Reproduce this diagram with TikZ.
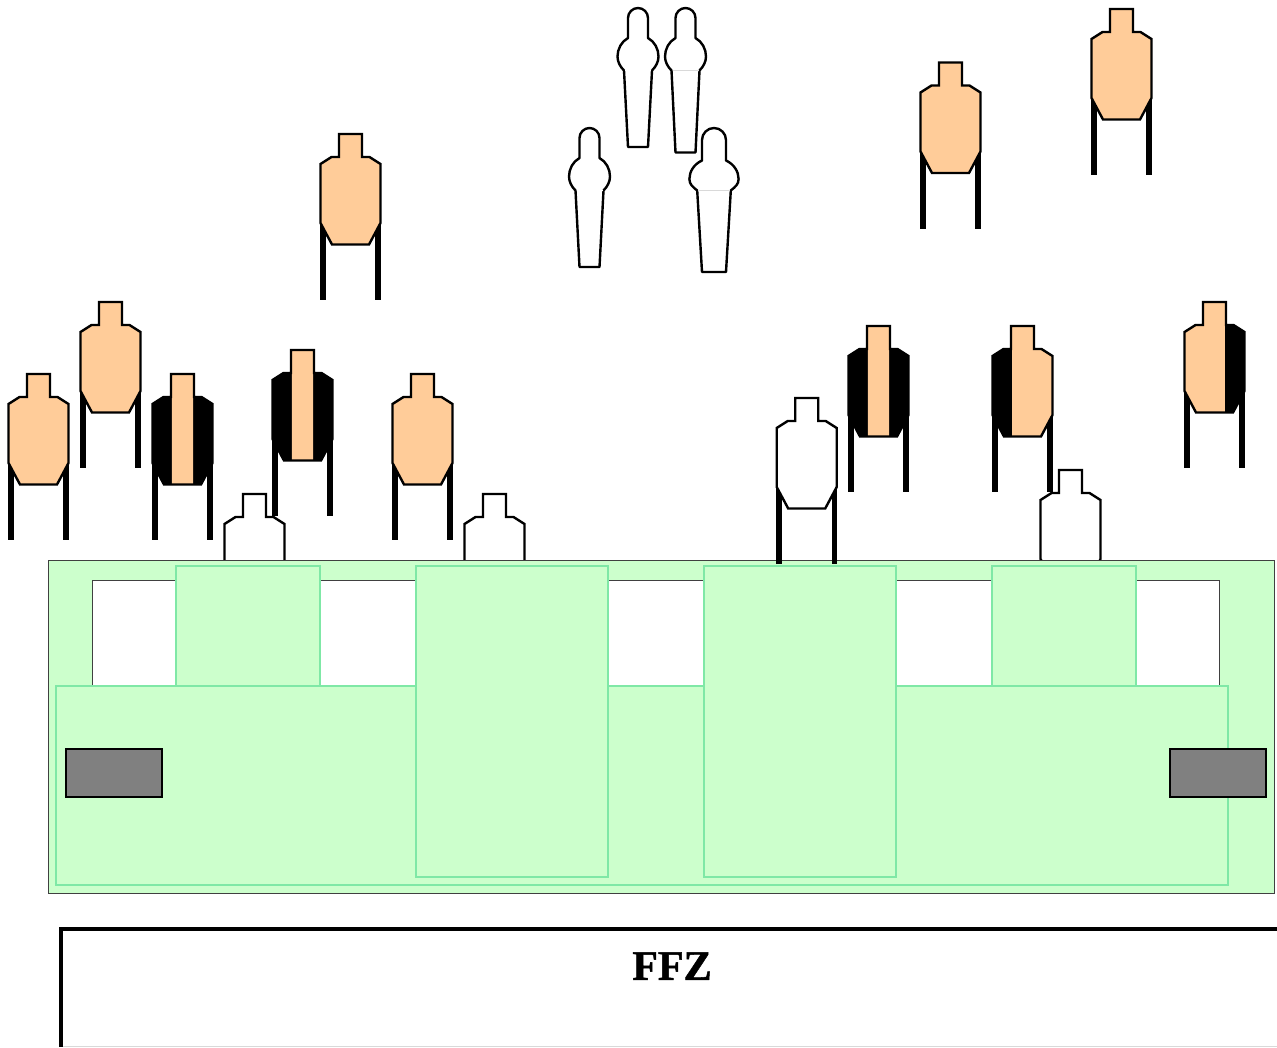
\documentclass[tikz,border=0pt]{standalone}
\usepackage{fontspec}
\setmainfont{Liberation Serif}
\newfontfamily\ffzfont[BoldFeatures={FakeBold=1.2}]{Liberation Serif}
\definecolor{skin}{HTML}{FFCC99}
\definecolor{bermgreen}{HTML}{CCFFCC}
\definecolor{bermedge}{HTML}{7FE8A6}
\definecolor{barrelgray}{HTML}{808080}
\tikzstyle{outline} = [draw=black, line width=2.4pt, line join=miter]
\tikzstyle{stand} = [draw=black, line width=5.8pt]
\tikzstyle{berm} = [fill=bermgreen, draw=black!75, line width=1pt]
\tikzstyle{panel} = [fill=bermgreen, draw=bermedge, line width=1.4pt]
\tikzstyle{opening} = [fill=white, draw=black!75, line width=1pt]
\tikzstyle{barrel} = [fill=barrelgray, draw=black, line width=2pt]
\tikzstyle{lane} = [draw=black, line width=3.8pt, line join=miter]

% x, top y, colour, left and right edge of the part not hard covered
\newcommand{\drawtarget}[5]{
\begin{scope}[shift={(#1,#2)}]
    \draw [stand] (-27.7,85) -- (-27.7,166);
    \draw [stand] (27.7,85) -- (27.7,166);
    \fill [black] (-11.5,0) -- (11.5,0) -- (11.5,23) -- (19,23) -- (30,30) -- (30,89)
        -- (18.5,110.5) -- (-18.5,110.5) -- (-30,89) -- (-30,30) -- (-19,23) -- (-11.5,23) -- cycle;
    \begin{scope}
        \clip (#4,-2) rectangle (#5,113);
        \fill [#3] (-11.5,0) -- (11.5,0) -- (11.5,23) -- (19,23) -- (30,30) -- (30,89)
            -- (18.5,110.5) -- (-18.5,110.5) -- (-30,89) -- (-30,30) -- (-19,23) -- (-11.5,23) -- cycle;
    \end{scope}
    \draw [outline] (-11.5,0) -- (11.5,0) -- (11.5,23) -- (19,23) -- (30,30) -- (30,89)
        -- (18.5,110.5) -- (-18.5,110.5) -- (-30,89) -- (-30,30) -- (-19,23) -- (-11.5,23) -- cycle;
\end{scope}
}

% x, top y, width factor, bottom, neck, colour of the seam
\newcommand{\drawnoshoot}[6]{
\begin{scope}[shift={(#1,#2)}, xscale=#3]
    \draw [outline, line join=round] (-14,62.5) .. controls (-17.8,58.7) and (-20.5,{#5+23.9}) .. (-20.5,{#5+18.5})
        .. controls (-20.5,{#5+11}) and (-16.6,{#5+3.6}) .. (-10,#5)
        -- (-10,{10*#3}) .. controls (-10,{4.5*#3}) and (-5.5,0) .. (0,0)
        .. controls (5.5,0) and (10,{4.5*#3}) .. (10,{10*#3}) -- (10,#5)
        .. controls (16.6,{#5+3.6}) and (20.5,{#5+11}) .. (20.5,{#5+18.5})
        .. controls (20.5,{#5+23.9}) and (17.8,58.7) .. (14,62.5)
        -- (10,#4) -- (-10,#4) -- cycle;
    \fill [white] (-12.2,61) -- (12.2,61) -- (12.2,64) -- (-12.2,64) -- cycle;
    \draw [#6, line width=0.6pt] (-13,62.5) -- (13,62.5);
\end{scope}
}

\begin{document}
\begin{tikzpicture}[x=1pt, y=-1pt]
    \useasboundingbox (0,0) rectangle (1277,1047);

    \drawtarget{350.5}{134}{skin}{-31}{31}
    \drawtarget{950.5}{62.5}{skin}{-31}{31}
    \drawtarget{1121.5}{9}{skin}{-31}{31}

    \drawnoshoot{638}{8}{1}{139}{30}{white}
    \drawnoshoot{685.5}{8}{1}{144.5}{30}{black!15}
    \drawnoshoot{589.5}{128}{1}{139}{30}{white}
    \drawnoshoot{714}{128}{1.2}{144}{32.5}{black!15}

    \drawtarget{110.5}{302}{skin}{-31}{31}
    \drawtarget{38.5}{374}{skin}{-31}{31}
    \drawtarget{182.5}{374}{skin}{-10.7}{10.7}
    \drawtarget{302.5}{350}{skin}{-10.7}{10.7}
    \drawtarget{422.5}{374}{skin}{-31}{31}
    \drawtarget{878.5}{326}{skin}{-10.7}{10.7}
    \drawtarget{1022.5}{326}{skin}{-10.3}{31}
    \drawtarget{1214.5}{302}{skin}{-31}{10.3}

    \drawtarget{254.5}{494}{white}{-31}{31}
    \drawtarget{494.5}{494}{white}{-31}{31}
    \drawtarget{1070.5}{470}{white}{-31}{31}

    % berm and window
    \draw [berm] (48,560.5) rectangle (1274.5,893.5);
    \draw [opening] (92,580.5) rectangle (1219.5,690);
    \draw [panel] (176,566) rectangle (320,686);
    \draw [panel] (992,566) rectangle (1136,686);
    \draw [panel] (56,686) rectangle (1228,885);
    \draw [panel] (416,566) rectangle (608,877);
    \draw [panel] (704,566) rectangle (896,877);

    \draw [barrel] (66,748.5) rectangle (162,796.5);
    \draw [barrel] (1170,748.5) rectangle (1266,796.5);

    \drawtarget{806.7}{398}{white}{-31}{31}

    % fault line
    \coordinate (lane_right) at (1277,929);
    \coordinate (lane_corner) at (61,929);
    \coordinate (lane_down) at (61,1047);
    \draw [lane] (lane_right) -- (lane_corner) -- (lane_down);
    \draw [black!15, line width=0.8pt] (63,1046.5) -- (1277,1046.5);
    \node (ffz) at (672,966) {\fontsize{42}{42}\ffzfont\bfseries FFZ};
\end{tikzpicture}
\end{document}
